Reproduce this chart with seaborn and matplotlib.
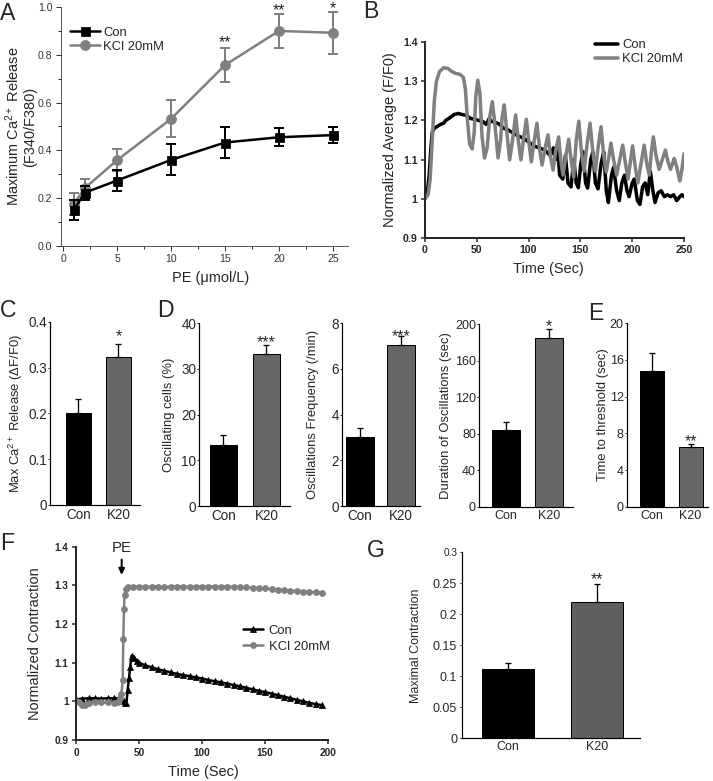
import seaborn as sns
from matplotlib import pyplot as plt

# ---- panel A: dose response ----
pe_dose = [1, 2, 5, 10, 15, 20, 25]
con_a = [0.151, 0.223, 0.274, 0.36, 0.433, 0.455, 0.464]
con_a_err = [0.042, 0.03, 0.044, 0.065, 0.065, 0.038, 0.035]
kcl_a = [0.176, 0.242, 0.359, 0.532, 0.757, 0.90, 0.892]
kcl_a_err = [0.045, 0.04, 0.047, 0.078, 0.072, 0.072, 0.088]
stars_a = [(15, 0.87, '**'), (20, 1.005, '**'), (25, 1.01, '*')]

# ---- panel B: normalized average traces ----
con_b_t = [0, 2, 4, 6, 7, 9, 12, 15, 18, 20,
           24, 28, 32, 36, 40, 44, 48, 52, 56, 59,
           62, 64, 68, 72, 76, 80, 85, 90, 95, 100,
           105, 110, 115, 118, 121, 124, 126, 128, 130, 133,
           135.5, 138, 141, 143.5, 146, 148, 150.5, 152.5, 155, 157,
           160, 162, 164.5, 167, 170, 172.5, 175, 177, 180, 182,
           185, 187.5, 190, 192.5, 195, 197, 200, 202, 205, 207.5,
           210, 212.5, 215, 217.5, 220, 222, 225, 228, 231, 234,
           237, 240, 243, 246, 248, 250]
con_b_v = [1.0, 1.01, 1.06, 1.14, 1.17, 1.18, 1.185, 1.19, 1.193, 1.20,
           1.207, 1.215, 1.218, 1.215, 1.213, 1.205, 1.203, 1.20, 1.197, 1.19,
           1.205, 1.198, 1.195, 1.19, 1.18, 1.176, 1.168, 1.16, 1.155, 1.145,
           1.135, 1.13, 1.125, 1.118, 1.11, 1.13, 1.1, 1.125, 1.06, 1.05,
           1.11, 1.04, 1.03, 1.10, 1.04, 1.028, 1.09, 1.12, 1.04, 1.027,
           1.10, 1.12, 1.04, 1.025, 1.09, 1.12, 1.02, 0.99, 1.06, 1.08,
           1.02, 0.995, 1.04, 1.06, 1.02, 1.005, 1.04, 1.05, 0.995, 0.985,
           1.03, 1.04, 1.01, 1.07, 1.02, 0.99, 1.015, 1.02, 1.005, 1.01,
           1.005, 1.01, 0.995, 1.005, 1.01, 1.005]
kcl_b_t = [0, 3, 5, 7, 9, 11, 14, 18, 22, 26,
           30, 34, 37, 39, 41, 43, 45.5, 47.5, 49, 51,
           53, 55, 57.5, 60, 62.5, 65, 67.5, 70.5, 73, 74.5,
           76.5, 79, 81.7, 84.5, 87.5, 90, 92.6, 95, 97.8, 100,
           102.6, 105, 108, 110.5, 113, 116, 118.7, 121, 123.6, 126,
           129, 131, 133.2, 136, 138.7, 141, 143.5, 146, 148.5, 151,
           153.5, 156.5, 159.3, 162, 164.5, 167, 169.9, 172.5, 175, 177,
           179.5, 182, 185, 188, 190.8, 193.5, 196, 198, 200.4, 203,
           205.5, 208.5, 211.6, 214, 216.5, 218.5, 220.4, 223, 226, 229,
           232, 234.5, 237, 239, 240.6, 243, 246, 248, 250]
kcl_b_v = [1.0, 1.01, 1.05, 1.15, 1.25, 1.30, 1.325, 1.335, 1.333, 1.325,
           1.32, 1.318, 1.31, 1.28, 1.20, 1.14, 1.127, 1.17, 1.26, 1.303,
           1.27, 1.16, 1.104, 1.13, 1.21, 1.248, 1.19, 1.104, 1.15, 1.21,
           1.24, 1.17, 1.099, 1.15, 1.214, 1.15, 1.099, 1.15, 1.203, 1.15,
           1.094, 1.14, 1.193, 1.13, 1.086, 1.13, 1.163, 1.11, 1.073, 1.12,
           1.158, 1.1, 1.06, 1.11, 1.152, 1.1, 1.055, 1.15, 1.198, 1.12,
           1.07, 1.14, 1.193, 1.12, 1.07, 1.13, 1.184, 1.11, 1.068, 1.10,
           1.142, 1.1, 1.06, 1.1, 1.137, 1.09, 1.05, 1.09, 1.135, 1.08,
           1.04, 1.09, 1.137, 1.09, 1.06, 1.12, 1.158, 1.11, 1.075, 1.10,
           1.124, 1.095, 1.075, 1.09, 1.103, 1.08, 1.045, 1.075, 1.115]

# ---- bar panels C, D, E, G ----
groups = ['Con', 'K20']
c_vals, c_errs = [0.2, 0.322], [0.031, 0.03]
d1_vals, d1_errs = [13.3, 33.2], [2.2, 2.1]
d2_vals, d2_errs = [3.03, 7.05], [0.37, 0.39]
d3_vals, d3_errs = [84, 185.3], [9, 9.7]
e_vals, e_errs = [14.77, 6.55], [2.03, 0.32]
g_vals, g_errs = [0.112, 0.2203], [0.01, 0.028]

# ---- panel F: contraction traces ----
con_f_t = [0, 5, 10, 15, 20, 25, 30, 35, 38, 39, 40, 41, 42, 43, 44, 46, 48, 50,
           55, 60, 65, 70, 75, 80, 85, 90, 95, 100, 105, 110, 115, 120, 125, 130,
           135, 140, 145, 150, 155, 160, 165, 170, 175, 180, 185, 190, 195]
con_f_v = [1.005, 1.007, 1.008, 1.008, 1.007, 1.008, 1.008, 1.008, 1.0, 0.996,
           0.996, 1.03, 1.06, 1.09, 1.118, 1.113, 1.105, 1.10,
           1.093, 1.088, 1.083, 1.079, 1.075, 1.071, 1.068, 1.065, 1.062, 1.059,
           1.055, 1.052, 1.049, 1.046, 1.042, 1.039, 1.035, 1.031, 1.027, 1.024,
           1.02, 1.016, 1.012, 1.008, 1.004, 1.0, 0.996, 0.993, 0.99]
kcl_f_t = [0, 2.5, 5, 7.5, 10, 15, 20, 25, 30, 33, 35, 36, 37, 37.5, 38, 38.5, 39.5, 41,
           45, 50, 55, 60, 65, 70, 75, 80, 85, 90, 95, 100, 105, 110, 115, 120, 125,
           130, 135, 140, 145, 150, 155, 160, 165, 170, 175, 180, 185, 190, 195]
kcl_f_v = [1.0, 0.997, 0.99, 0.99, 0.996, 0.997, 0.997, 0.997, 0.995, 0.998,
           1.008, 1.02, 1.055, 1.16, 1.24, 1.275, 1.29, 1.296,
           1.297, 1.297, 1.296, 1.297, 1.297, 1.296, 1.297, 1.297, 1.296, 1.297,
           1.297, 1.296, 1.297, 1.297, 1.296, 1.297, 1.296, 1.296,
           1.295, 1.294, 1.293, 1.292, 1.29, 1.289, 1.288, 1.286, 1.285, 1.284,
           1.283, 1.282, 1.281]

sns.set_style("ticks")
plt.rcParams['font.family'] = ['Liberation Sans', 'DejaVu Sans']
plt.rcParams['mathtext.fontset'] = 'custom'
plt.rcParams['mathtext.rm'] = 'Liberation Sans'
plt.rcParams['mathtext.it'] = 'Liberation Sans:italic'
plt.rcParams['mathtext.bf'] = 'Liberation Sans:bold'

W, H = 713, 781
GREY = '#808080'
fig = plt.figure(figsize=(W / 72, H / 72), dpi=72)


def box(left, top, right, bottom):
    # pixel box -> figure fraction
    return [left / W, 1 - bottom / H, (right - left) / W, (bottom - top) / H]


def star(ax, x, y, s, size=16):
    ax.annotate(s, xy=(x, y), xytext=(0, -9), textcoords='offset points',
                ha='center', va='baseline', fontsize=size, annotation_clip=False)


# ---------------- A ----------------
ax = fig.add_axes(box(61, 7, 348, 246))
sns.lineplot(x=pe_dose, y=kcl_a, color=GREY, marker='o', markersize=10, linewidth=2.5,
             markeredgecolor=GREY, label='KCl 20mM', ax=ax)
ax.errorbar(pe_dose, kcl_a, yerr=kcl_a_err, fmt='none', ecolor=GREY, elinewidth=2,
            capsize=5, capthick=2)
sns.lineplot(x=pe_dose, y=con_a, color='black', marker='s', markersize=9, linewidth=2.5,
             markeredgecolor='black', label='Con', ax=ax)
ax.errorbar(pe_dose, con_a, yerr=con_a_err, fmt='none', ecolor='black', elinewidth=2,
            capsize=5, capthick=2)
ax.set_xlim(-0.2, 26.4)
ax.set_ylim(0, 1.0)
ax.set_xticks([0, 5, 10, 15, 20, 25])
ax.set_xticks([2.5, 7.5, 12.5, 17.5, 22.5], minor=True)
ax.set_yticks([0, 0.2, 0.4, 0.6, 0.8, 1.0])
ax.set_yticks([0.1, 0.3, 0.5, 0.7, 0.9], minor=True)
ax.set_yticklabels(['0.0', '0.2', '0.4', '0.6', '0.8', '1.0'])
ax.tick_params(which='both', direction='out', labelsize=10.5, colors='#333333', width=1)
ax.tick_params(which='major', length=5)
ax.tick_params(which='minor', length=3)
for sp in ['left', 'bottom']:
    ax.spines[sp].set_color('#333333')
sns.despine(ax=ax)
ax.set_ylabel('Maximum Ca$^{2+}$ Release\n(F340/F380)', fontsize=14.5, linespacing=1.1)
ax.yaxis.set_label_coords(-0.083, 0.5)
ax.set_xlabel('PE (\u03bcmol/L)', fontsize=14.5)
ax.xaxis.set_label_coords(0.52, -0.103)
h, l = ax.get_legend_handles_labels()
ax.legend(h[::-1], l[::-1], loc='center left', bbox_to_anchor=(0.03, 0.864), frameon=False,
          fontsize=13, handlelength=2.3, handletextpad=0.3, labelspacing=0.15, borderpad=0,
          borderaxespad=0)
for x, y, s in stars_a:
    star(ax, x, y, s)

# ---------------- B ----------------
ax = fig.add_axes(box(425, 42.3, 684, 237.7))
sns.lineplot(x=con_b_t, y=con_b_v, color='black', linewidth=3.5, label='Con', ax=ax)
sns.lineplot(x=kcl_b_t, y=kcl_b_v, color=GREY, linewidth=3.5, label='KCl 20mM', ax=ax)
ax.set_xlim(0, 250)
ax.set_ylim(0.9, 1.4)
ax.set_xticks([0, 50, 100, 150, 200, 250])
ax.set_yticks([0.9, 1.0, 1.1, 1.2, 1.3, 1.4])
ax.set_yticklabels(['0.9', '1', '1.1', '1.2', '1.3', '1.4'])
ax.tick_params(direction='out', length=4, width=1.5, labelsize=10.5)
for t in ax.get_xticklabels() + ax.get_yticklabels():
    t.set_fontweight('bold')
for sp in ['left', 'bottom']:
    ax.spines[sp].set_linewidth(2)
sns.despine(ax=ax)
ax.set_ylabel('Normalized Average (F/F0)', fontsize=14.5)
ax.yaxis.set_label_coords(-0.109, 0.5)
ax.set_xlabel('Time (Sec)', fontsize=14.5)
ax.xaxis.set_label_coords(0.476, -0.123)
ax.legend(loc='center left', bbox_to_anchor=(0.656, 0.95), frameon=False, fontsize=13,
          handlelength=1.8, handletextpad=0.3, labelspacing=0.15, borderpad=0,
          borderaxespad=0)


# ---------------- bar panels ----------------
def bar_panel(rect, vals, errs, ylim, yticks, ylabel, label_x, xlim, width, stars, star_y,
              tick_size=13.5, label_size=13, k_color='#666666'):
    ax = fig.add_axes(rect)
    sns.barplot(x=groups, y=vals, hue=groups, palette=['black', k_color], width=width,
                edgecolor='black', linewidth=1, errorbar=None, legend=False, ax=ax)
    ax.errorbar([0, 1], vals, yerr=[[0, 0], errs], fmt='none', ecolor='black',
                elinewidth=1.3, capsize=3, capthick=1.3)
    ax.set_xlim(*xlim)
    ax.set_ylim(*ylim)
    ax.set_yticks(yticks)
    ax.tick_params(axis='y', direction='out', length=2.5, width=1, labelsize=tick_size, pad=0.5)
    ax.tick_params(axis='x', length=0, labelsize=tick_size, pad=3)
    for sp in ['left', 'bottom']:
        ax.spines[sp].set_linewidth(1.2)
        ax.spines[sp].set_color('black')
    sns.despine(ax=ax)
    ax.set_xlabel('')
    ax.set_ylabel(ylabel, fontsize=label_size)
    ax.yaxis.set_label_coords(label_x, 0.5)
    star(ax, 1, star_y, stars)
    return ax


ax = bar_panel(box(50, 321.7, 140, 505), c_vals, c_errs, (0, 0.4), [0, 0.1, 0.2, 0.3, 0.4],
               'Max Ca$^{2+}$ Release (\u0394F/F0)', -0.278, (-0.71, 1.54), 0.62, '*', 0.378)
ax.set_yticklabels(['0', '0.1', '0.2', '0.3', '0.4'])
bar_panel(box(199.3, 323.3, 290, 506), d1_vals, d1_errs, (0, 40), [0, 10, 20, 30, 40],
          'Oscillating cells (%)', -0.268, (-0.56, 1.55), 0.62, '***', 36.7)
bar_panel(box(342, 323.3, 420, 506), d2_vals, d2_errs, (0, 8), [0, 2, 4, 6, 8],
          'Oscillations Frequency (/min)', -0.30, (-0.44, 1.46), 0.7, '***', 7.63)
bar_panel(box(479, 324.3, 573, 506.7), d3_vals, d3_errs, (0, 200), [0, 40, 80, 120, 160, 200],
          'Duration of Oscillations (sec)', -0.29, (-0.625, 1.566), 0.66, '*', 202.8,
          tick_size=12.5)
bar_panel(box(626.7, 323.3, 708, 506.7), e_vals, e_errs, (0, 20), [0, 4, 8, 12, 16, 20],
          'Time to threshold (sec)', -0.215, (-0.65, 1.45), 0.62, '**', 7.64,
          tick_size=12.5)
ax = bar_panel(box(461.7, 552.3, 640, 738.3), g_vals, g_errs, (0, 0.3),
               [0, 0.05, 0.1, 0.15, 0.2, 0.25, 0.3], 'Maximal Contraction', -0.224,
               (-0.52, 1.48), 0.58, '**', 0.263, tick_size=12.5, label_size=12.5,
               k_color='#606060')
ax.set_yticklabels(['0', '0.05', '0.1', '0.15', '0.2', '0.25', '0.3'])
ax.tick_params(axis='y', labelsize=12.5, pad=2)
ax.yaxis.get_ticklabels()[-1].set_fontsize(10)

# ---------------- F ----------------
ax = fig.add_axes(box(76, 546.7, 328.3, 740))
sns.lineplot(x=con_f_t, y=con_f_v, color='black', marker='^', markersize=6, linewidth=2.5,
             markeredgecolor='black', label='Con', ax=ax)
sns.lineplot(x=kcl_f_t, y=kcl_f_v, color=GREY, marker='o', markersize=6, linewidth=2.5,
             markeredgecolor=GREY, label='KCl 20mM', ax=ax)
ax.set_xlim(0, 200)
ax.set_ylim(0.9, 1.4)
ax.set_xticks([0, 50, 100, 150, 200])
ax.set_yticks([0.9, 1.0, 1.1, 1.2, 1.3, 1.4])
ax.set_yticklabels(['0.9', '1', '1.1', '1.2', '1.3', '1.4'])
ax.tick_params(direction='out', length=4, width=1.5, labelsize=10)
for t in ax.get_xticklabels() + ax.get_yticklabels():
    t.set_fontweight('bold')
for sp in ['left', 'bottom']:
    ax.spines[sp].set_linewidth(2)
sns.despine(ax=ax)
ax.set_ylabel('Normalized Contraction', fontsize=14.5)
ax.yaxis.set_label_coords(-0.136, 0.5)
ax.set_xlabel('Time (Sec)', fontsize=14.5)
ax.xaxis.set_label_coords(0.505, -0.129)
ax.legend(loc='center left', bbox_to_anchor=(0.66, 0.525), frameon=False, fontsize=13,
          handlelength=1.6, handletextpad=0.4, labelspacing=0.3, borderpad=0,
          borderaxespad=0)
ax.annotate('', xy=(36.2, 1.322), xytext=(36.2, 1.372),
            arrowprops=dict(arrowstyle='-|>', color='black', lw=2, mutation_scale=12),
            annotation_clip=False)
ax.text(36.2, 1.378, 'PE', ha='center', va='bottom', fontsize=15)

# ---------------- panel letters ----------------
for s, x, y in [('A', 0, 20), ('B', 363, 18), ('C', 0, 317), ('D', 157, 317),
                ('E', 588, 320), ('F', 0, 550), ('G', 367, 557)]:
    fig.text(x / W, 1 - y / H, s, fontsize=23, ha='left', va='baseline')

fig.savefig('out.png', dpi=72)
